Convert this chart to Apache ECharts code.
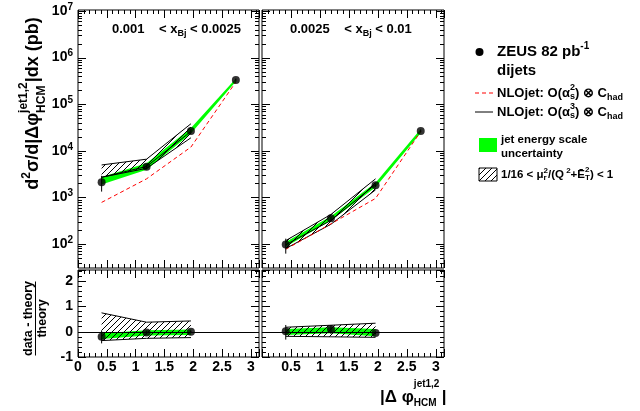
<!DOCTYPE html>
<html><head><meta charset="utf-8">
<script src="https://cdn.jsdelivr.net/npm/echarts@6/dist/echarts.min.js"></script>
<style>html,body{margin:0;padding:0;background:#fff}#c{width:640px;height:411px}</style>
</head><body><div id="c"></div>
<script>
// ---------------- data ----------------
const binCenters = [0.41, 1.19, 1.96, 2.74];
const xTickValues = [0, 0.5, 1, 1.5, 2, 2.5, 3];
const xTickLabels = ['0', '0.5', '1', '1.5', '2', '2.5', '3'];
const logTickExponents = [2, 3, 4, 5, 6, 7];
const logMinorDecades = [1, 2, 3, 4, 5, 6];
const logMinorMultipliers = [2, 3, 4, 5, 6, 7, 8, 9];
const ratioTickValues = [-1, 0, 1, 2];

// panel 1: 0.001 < xBj < 0.0025
const dataL = [2100, 4550, 26600, 330000];
const dataErrLoL = [1330, 4100, 24000, 305000];
const dataErrHiL = [2900, 5050, 29500, 355000];
const nlo2L = [780, 2500, 12000, 300000];
const nlo3L = [2700, 4600, 26000];
const scaleLoL = [2700, 4200, 19000];
const scaleHiL = [4960, 6600, 38000];
const jesLoL = [1900, 3900, 23500, 305000];
const jesHiL = [2750, 5400, 31000, 355000];

// panel 2: 0.0025 < xBj < 0.01
const dataR = [98, 355, 1820, 26600];
const dataErrLoR = [62, 325, 1680, 25000];
const dataErrHiR = [130, 395, 1980, 28500];
const nlo2R = [77, 270, 950, 26000];
const nlo3R = [96, 320, 1900];
const scaleLoR = [80, 265, 1450];
const scaleHiR = [118, 430, 2500];
const jesLoR = [87, 320, 1650, 24000];
const jesHiR = [110, 395, 2050, 29500];

// ratio (data - theory)/theory
const rDataL = [-0.2, -0.03, 0.0];
const rErrLoL = [-0.46, -0.1, -0.05];
const rErrHiL = [0.05, 0.04, 0.05];
const rScaleLoL = [-0.35, -0.26, -0.23];
const rScaleHiL = [0.75, 0.38, 0.43];
const rJesLoL = [-0.29, -0.15, -0.13];
const rJesHiL = [-0.06, 0.06, 0.09];

const rDataR = [0.02, 0.11, -0.05];
const rErrLoR = [-0.31, -0.09, -0.1];
const rErrHiR = [0.27, 0.26, 0.02];
const rScaleLoR = [-0.18, -0.2, -0.22];
const rScaleHiR = [0.18, 0.26, 0.34];
const rJesLoR = [-0.13, -0.06, -0.18];
const rJesHiR = [0.11, 0.18, 0.11];

// ---------------- styling helpers ----------------
const FONT = "'Liberation Sans', Arial, Helvetica, sans-serif";
const GREEN = '#00ff00';
const LOG_MIN = 30.5, LOG_MAX = 1.05e7;

function hatchPattern() {
  const c = document.createElement('canvas');
  c.width = 6; c.height = 6;
  const g = c.getContext('2d');
  g.strokeStyle = '#000'; g.lineWidth = 1;
  g.beginPath();
  g.moveTo(0, 6); g.lineTo(6, 0);
  g.moveTo(-1, 1); g.lineTo(1, -1);
  g.moveTo(5, 7); g.lineTo(7, 5);
  g.stroke();
  return { image: c, repeat: 'repeat' };
}
const HATCH = hatchPattern();

const mctx = document.createElement('canvas').getContext('2d');
function richRow(pieces) {
  let x = 0, lastStart = 0;
  const kids = [];
  pieces.forEach(p => {
    mctx.font = 'bold ' + p.s + 'px ' + FONT;
    const w = mctx.measureText(p.t).width;
    let sx;
    if (p.stack) { sx = lastStart; x = Math.max(x, sx + w); }
    else { sx = x; lastStart = sx; x = sx + w; }
    kids.push({ type: 'text', x: sx, y: p.dy || 0, silent: true,
      style: { text: p.t, fontSize: p.s, fontWeight: 'bold', fontFamily: FONT, fill: '#000', align: 'left', verticalAlign: 'middle' } });
  });
  return { kids, width: x };
}
function textGroup(x, y, pieces, opts) {
  opts = opts || {};
  const r = richRow(pieces);
  let off = opts.center ? -r.width / 2 : 0;
  r.kids.forEach(k => k.x += off);
  return { type: 'group', x: x, y: y, rotation: opts.rotation || 0, children: r.kids, silent: true };
}

const tickStyle = { color: '#000', width: 1 };
function xAx(grid, pos, showLabels, skipZero) {
  return {
    type: 'value', gridIndex: grid, position: pos, min: 0, max: Math.PI, interval: 0.5,
    axisLine: { show: false, onZero: false }, splitLine: { show: false },
    axisTick: { show: true, inside: true, length: 8, lineStyle: tickStyle },
    minorTick: { show: true, splitNumber: 5, length: 4, lineStyle: tickStyle },
    axisLabel: {
      show: showLabels, margin: 3, color: '#000', fontFamily: FONT, fontWeight: 'bold', fontSize: 14,
      formatter: v => {
        const k = xTickValues.findIndex(t => Math.abs(t - v) < 1e-6);
        if (k < 0 || (skipZero && k === 0)) return '';
        return xTickLabels[k];
      }
    }
  };
}
function logAx(grid, pos, showLabels) {
  return {
    type: 'log', logBase: 10, gridIndex: grid, position: pos, min: LOG_MIN, max: LOG_MAX,
    axisLine: { show: false, onZero: false }, splitLine: { show: false },
    axisTick: { show: false },
    minorTick: { show: false },
    axisLabel: {
      show: showLabels, margin: 5,
      formatter: v => {
        const e = Math.log10(v), r = Math.round(e);
        return (Math.abs(e - r) < 1e-6 && logTickExponents.includes(r)) ? '{b|10}{s|' + r + '}' : '';
      },
      rich: {
        b: { fontSize: 14, fontWeight: 'bold', fontFamily: FONT, color: '#000', lineHeight: 18, verticalAlign: 'middle' },
        s: { fontSize: 10, fontWeight: 'bold', fontFamily: FONT, color: '#000', lineHeight: 18, verticalAlign: 'top' }
      }
    }
  };
}
function ratioAx(grid, pos, showLabels) {
  return {
    type: 'value', gridIndex: grid, position: pos, min: -1, max: 2.45, interval: 1,
    axisLine: { show: false, onZero: false }, splitLine: { show: false },
    axisTick: { show: true, inside: true, length: 8, lineStyle: tickStyle },
    minorTick: { show: true, splitNumber: 5, length: 4, lineStyle: tickStyle },
    axisLabel: {
      show: showLabels, margin: 5, color: '#000', fontFamily: FONT, fontWeight: 'bold', fontSize: 14,
      formatter: v => ratioTickValues.some(t => Math.abs(t - v) < 1e-6) ? String(Math.round(v)) : ''
    }
  };
}

// ticks of the log axes (decades + 2..9 x 10^n), drawn on both frame sides through the log scale
function logTicks(ai) {
  const vals = [];
  logTickExponents.forEach(n => vals.push([binCenters[0], Math.pow(10, n), 1]));
  logMinorDecades.forEach(n => logMinorMultipliers.forEach(m => {
    const v = m * Math.pow(10, n);
    if (v > LOG_MIN && v < LOG_MAX) vals.push([binCenters[0], v, 0]);
  }));
  return {
    type: 'custom', xAxisIndex: ai, yAxisIndex: ai, z: 8, silent: true,
    data: vals, encode: { x: 0, y: 1 },
    renderItem: function (params, api) {
      const cs = params.coordSys;
      const y = Math.round(api.coord([api.value(0), api.value(1)])[1]) + 0.5;
      const len = api.value(2) ? 8 : 4;
      return { type: 'group', children: [
        { type: 'line', shape: { x1: cs.x, y1: y, x2: cs.x + len, y2: y }, style: { stroke: '#000', lineWidth: 1 } },
        { type: 'line', shape: { x1: cs.x + cs.width - len, y1: y, x2: cs.x + cs.width, y2: y }, style: { stroke: '#000', lineWidth: 1 } }
      ] };
    }
  };
}

function band(ai, lo, hi, fill, outline, z) {
  const xs = binCenters.slice(0, lo.length);
  return {
    type: 'custom', xAxisIndex: ai, yAxisIndex: ai, z: z, silent: true,
    data: xs.map((x, i) => [x, lo[i], hi[i]]),
    encode: { x: 0, y: [1, 2] },
    renderItem: function (params, api) {
      if (params.dataIndex !== 0) return null;
      const top = xs.map((x, i) => api.coord([x, hi[i]]));
      const bot = xs.map((x, i) => api.coord([x, lo[i]]));
      const kids = [{ type: 'polygon', shape: { points: top.concat(bot.slice().reverse()) }, style: { fill: fill, stroke: null } }];
      if (outline) {
        kids.push({ type: 'polyline', shape: { points: top }, style: { stroke: '#000', lineWidth: 1, fill: null } });
        kids.push({ type: 'polyline', shape: { points: bot }, style: { stroke: '#000', lineWidth: 1, fill: null } });
      }
      return { type: 'group', children: kids };
    }
  };
}
function curve(ai, ys, color, dashed, z) {
  return {
    type: 'line', xAxisIndex: ai, yAxisIndex: ai, z: z, silent: true, symbol: 'none',
    data: ys.map((y, i) => [binCenters[i], y]),
    lineStyle: { color: color, width: 1, type: dashed ? [4, 3] : 'solid' }
  };
}
function errBars(ai, lo, hi) {
  return {
    type: 'custom', xAxisIndex: ai, yAxisIndex: ai, z: 6, silent: true,
    data: lo.map((l, i) => [binCenters[i], l, hi[i]]),
    encode: { x: 0, y: [1, 2] },
    renderItem: function (params, api) {
      const p1 = api.coord([api.value(0), api.value(1)]);
      const p2 = api.coord([api.value(0), api.value(2)]);
      return { type: 'line', shape: { x1: p1[0], y1: p1[1], x2: p2[0], y2: p2[1] }, style: { stroke: '#000', lineWidth: 1 } };
    }
  };
}
function points(ai, ys, zeroLine) {
  const s = {
    type: 'scatter', xAxisIndex: ai, yAxisIndex: ai, z: 7, silent: true,
    symbol: 'circle', symbolSize: 8, itemStyle: { color: '#000' },
    data: ys.map((y, i) => [binCenters[i], y])
  };
  if (zeroLine) {
    s.markLine = { silent: true, symbol: 'none', animation: false, label: { show: false },
      lineStyle: { color: '#000', width: 1, type: 'solid' }, data: [{ yAxis: 0 }] };
  }
  return s;
}

// ---------------- layout ----------------
const gridBase = { show: true, borderColor: '#000', borderWidth: 1, backgroundColor: 'transparent', containLabel: false, outerBoundsMode: 'none' };
const grids = [
  Object.assign({ left: 78, top: 10, width: 181, height: 258 }, gridBase),
  Object.assign({ left: 262, top: 10, width: 182, height: 258 }, gridBase),
  Object.assign({ left: 78, top: 270, width: 181, height: 87 }, gridBase),
  Object.assign({ left: 262, top: 270, width: 182, height: 87 }, gridBase)
];

const xAxes = [
  xAx(0, 'bottom', false, false), xAx(1, 'bottom', false, false),
  xAx(2, 'bottom', true, false), xAx(3, 'bottom', true, true),
  xAx(0, 'top', false, false), xAx(1, 'top', false, false),
  xAx(2, 'top', false, false), xAx(3, 'top', false, false)
];
const yAxes = [
  logAx(0, 'left', true), logAx(1, 'left', false),
  ratioAx(2, 'left', true), ratioAx(3, 'left', false),
  logAx(0, 'right', false), logAx(1, 'right', false),
  ratioAx(2, 'right', false), ratioAx(3, 'right', false)
];

const series = [
  logTicks(0), logTicks(1),

  band(0, jesLoL, jesHiL, GREEN, false, 2),
  band(0, scaleLoL, scaleHiL, HATCH, true, 3),
  curve(0, nlo2L, '#ff0000', true, 4),
  curve(0, nlo3L, '#000', false, 4),
  errBars(0, dataErrLoL, dataErrHiL),
  points(0, dataL, false),

  band(1, jesLoR, jesHiR, GREEN, false, 2),
  band(1, scaleLoR, scaleHiR, HATCH, true, 3),
  curve(1, nlo2R, '#ff0000', true, 4),
  curve(1, nlo3R, '#000', false, 4),
  errBars(1, dataErrLoR, dataErrHiR),
  points(1, dataR, false),

  band(2, rJesLoL, rJesHiL, GREEN, false, 2),
  band(2, rScaleLoL, rScaleHiL, HATCH, true, 3),
  errBars(2, rErrLoL, rErrHiL),
  points(2, rDataL, true),

  band(3, rJesLoR, rJesHiR, GREEN, false, 2),
  band(3, rScaleLoR, rScaleHiR, HATCH, true, 3),
  errBars(3, rErrLoR, rErrHiR),
  points(3, rDataR, true)
];

// ---------------- texts ----------------
const graphics = [
  textGroup(112, 29, [{ t: '0.001    < x', s: 13 }, { t: 'Bj', s: 9, dy: 5 }, { t: ' < 0.0025', s: 13 }]),
  textGroup(290, 29, [{ t: '0.0025    < x', s: 13 }, { t: 'Bj', s: 9, dy: 5 }, { t: ' < 0.01', s: 13 }]),
  // y title (top)
  textGroup(33.5, 103.5, [
    { t: 'd', s: 18 }, { t: '2', s: 12, dy: -7 }, { t: 'σ/d|Δφ', s: 18 },
    { t: 'jet1,2', s: 12, dy: -10 }, { t: 'HCM', s: 12, dy: 8, stack: true }, { t: '|dx (pb)', s: 18 }
  ], { center: true, rotation: Math.PI / 2 }),
  // y title (ratio)
  { type: 'group', x: 29, y: 318.5, rotation: Math.PI / 2, silent: true, children: [
    { type: 'text', x: 0, y: 0, style: { text: 'data - theory', fontSize: 12.5, fontWeight: 'bold', fontFamily: FONT, fill: '#000', align: 'center', verticalAlign: 'middle' } },
    { type: 'line', shape: { x1: -37, y1: 6.5, x2: 37, y2: 6.5 }, style: { stroke: '#000', lineWidth: 1 } },
    { type: 'text', x: 0, y: 14, style: { text: 'theory', fontSize: 12.5, fontWeight: 'bold', fontFamily: FONT, fill: '#000', align: 'center', verticalAlign: 'middle' } }
  ] },
  // x title
  textGroup(380, 397, [
    { t: '|Δ φ', s: 17 }, { t: 'jet1,2', s: 10, dy: -13 }, { t: 'HCM', s: 10, dy: 6, stack: true }, { t: ' ', s: 8 }, { t: '|', s: 17 }
  ]),
  // legend
  { type: 'circle', shape: { cx: 479.5, cy: 52, r: 4 }, style: { fill: '#000' }, silent: true },
  textGroup(497, 52, [{ t: 'ZEUS 82 pb', s: 15 }, { t: '-1', s: 10, dy: -6 }]),
  textGroup(497, 71, [{ t: 'dijets', s: 15 }]),
  { type: 'line', shape: { x1: 475, y1: 93, x2: 493, y2: 93 }, style: { stroke: '#ff0000', lineWidth: 1, lineDash: [4, 3] }, silent: true },
  textGroup(497, 93, [{ t: 'NLOjet: O(α', s: 13 }, { t: '2', s: 9, dy: -5 }, { t: 's', s: 9, dy: 4, stack: true }, { t: ') ⊗ C', s: 13 }, { t: 'had', s: 9, dy: 5 }]),
  { type: 'line', shape: { x1: 475, y1: 112, x2: 493, y2: 112 }, style: { stroke: '#000', lineWidth: 1 }, silent: true },
  textGroup(497, 112, [{ t: 'NLOjet: O(α', s: 13 }, { t: '3', s: 9, dy: -5 }, { t: 's', s: 9, dy: 4, stack: true }, { t: ') ⊗ C', s: 13 }, { t: 'had', s: 9, dy: 5 }]),
  { type: 'rect', shape: { x: 479, y: 138, width: 18, height: 14 }, style: { fill: GREEN }, silent: true },
  textGroup(501, 140, [{ t: 'jet energy scale', s: 11.5 }]),
  textGroup(501, 154, [{ t: 'uncertainty', s: 11.5 }]),
  { type: 'rect', shape: { x: 479, y: 168, width: 18, height: 13 }, style: { fill: HATCH, stroke: '#000', lineWidth: 1 }, silent: true },
  textGroup(501, 175, [
    { t: '1/16 < μ', s: 11.5 }, { t: '2', s: 8, dy: -4 }, { t: 'r', s: 8, dy: 3, stack: true },
    { t: '/(Q', s: 11.5 }, { t: ' 2', s: 8, dy: -4 }, { t: '+Ē', s: 11.5 },
    { t: '2', s: 8, dy: -5 }, { t: 'T', s: 8, dy: 3, stack: true }, { t: ') < 1', s: 11.5 }
  ])
];

const chart = echarts.init(document.getElementById('c'), null, { renderer: 'canvas' });
chart.setOption({
  animation: false,
  backgroundColor: '#fff',
  grid: grids,
  xAxis: xAxes,
  yAxis: yAxes,
  series: series,
  graphic: graphics
});
</script>
</body></html>
